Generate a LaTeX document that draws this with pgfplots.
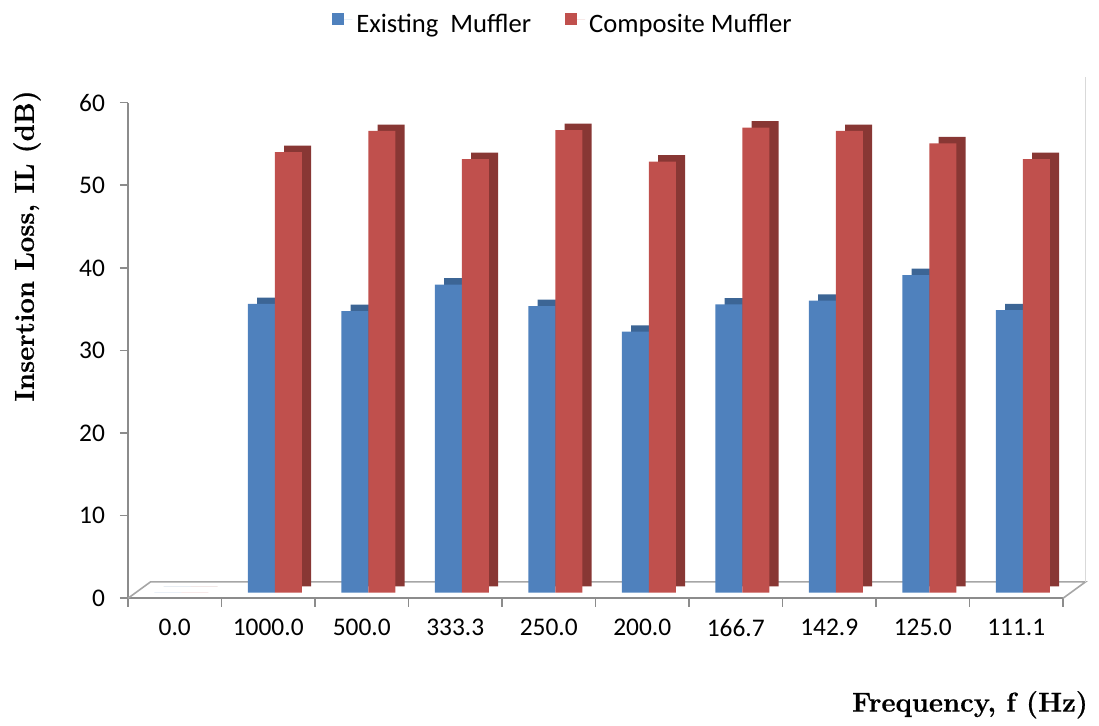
\documentclass[border=0pt]{standalone}
\usepackage{pgfplots}
\usepackage{pgfplotstable}
\pgfplotsset{compat=1.18}
\usepackage{fontspec}
\setmainfont{Carlito}
\newfontfamily\lmfont[BoldFeatures={FakeBold=0.6}]{Latin Modern Roman}
\newcommand\labfont{\lmfont\bfseries\fontsize{13.7}{16}\selectfont}

\definecolor{exblue}{HTML}{4F81BD}
\definecolor{exbluedk}{HTML}{3C6595}
\definecolor{cored}{HTML}{C0504D}
\definecolor{coreddk}{HTML}{883734}
\definecolor{axgray}{HTML}{8C8C8C}
\definecolor{floorgray}{HTML}{A6A6A6}
\definecolor{wallgray}{HTML}{D9D9D9}

\pgfplotstableread{
x ex co
0 0 0
1 34.95 53.35
2 34.1 55.9
3 37.3 52.5
4 34.7 56.0
5 31.6 52.2
6 34.9 56.3
7 35.35 55.9
8 38.45 54.4
9 34.2 52.5
}\data

\begin{document}
\begin{tikzpicture}
\begin{axis}[
  width=467.5pt, height=247.8pt, scale only axis,
  xmin=-0.5, xmax=9.5, ymin=0, ymax=60,
  ybar, bar width=13.5pt,
  clip=false,
  axis lines*=left,
  axis line style={axgray, line width=0.8pt, -},
  xtick={0,...,9},
  xticklabels={0.0,1000.0,500.0,333.3,250.0,200.0,166.7,142.9,125.0,111.1},
  minor xtick={-0.5,0.5,...,9.5},
  major x tick style={draw=none},
  minor x tick style={axgray, line width=0.8pt},
  ytick={0,10,...,60},
  y tick style={axgray, line width=0.8pt},
  tick align=outside,
  major tick length=4pt,
  minor tick length=4.3pt,
  /pgf/number format/assume math mode=true,
  ticklabel style={font=\fontsize{12.7}{15}\selectfont},
  yticklabel style={xshift=-4pt},
  xticklabel style={yshift=-3pt},
  xlabel={\labfont Frequency, f (Hz)},
  ylabel={\labfont Insertion Loss, IL (dB)},
  every axis x label/.style={at={(axis description cs:0.9005,-0.215)}, anchor=center},
  every axis y label/.style={at={(axis description cs:-0.108,0.711)}, rotate=90, anchor=center},
  legend style={at={(axis description cs:0.4663,1.157)}, anchor=center, draw=none,
    font=\fontsize{13.3}{15}\selectfont, legend columns=2,
    /tikz/every even column/.append style={column sep=15pt}},
]
\draw[floorgray, line width=0.8pt] (axis cs:-0.5,0) -- ++(11.25pt,8.2pt)
  -- ([shift={(11.25pt,8.2pt)}]axis cs:9.5,0) -- (axis cs:9.5,0);
\draw[wallgray, line width=0.8pt] ([shift={(11.25pt,8.2pt)}]axis cs:9.5,0) -- ([shift={(11.25pt,8.2pt)}]axis cs:9.5,61.1);

\addplot[fill=exbluedk, draw=none, bar shift=-3.4pt, xshift=4.6pt, yshift=6pt, forget plot] table[x=x, y=ex] {\data};
\addplot[fill=exblue, draw=none, bar shift=-3.4pt, yshift=2.8pt,
  legend image code/.code={\fill[exblue] (0pt,-3pt) rectangle (6pt,3pt); \path (0pt,0pt) -- (10pt,0pt);}] table[x=x, y=ex] {\data};
\addlegendentry{Existing\ \ Muffler}
\addplot[fill=coreddk, draw=none, bar shift=10.1pt, xshift=4.6pt, yshift=6pt, forget plot] table[x=x, y=co] {\data};
\addplot[fill=cored, draw=none, bar shift=10.1pt, yshift=2.8pt,
  legend image code/.code={\fill[cored] (0pt,-3pt) rectangle (6pt,3pt); \path (0pt,0pt) -- (10pt,0pt);}] table[x=x, y=co] {\data};
\addlegendentry{Composite Muffler}

\coordinate (bl) at (rel axis cs:-0.1369,-0.2496);
\coordinate (tr) at (rel axis cs:1.0385,1.2072);
\end{axis}
\path (bl) rectangle (tr);
\end{tikzpicture}
\end{document}
